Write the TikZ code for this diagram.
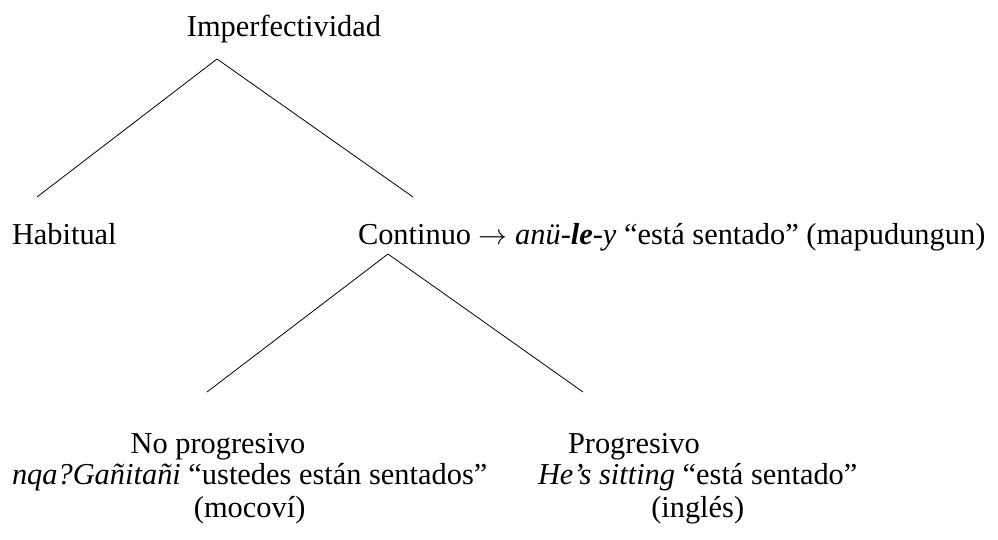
\documentclass[tikz,border=0pt]{standalone}
\usepackage{fontspec}
\setmainfont{Liberation Serif}
\begin{document}
\begin{tikzpicture}[x=0.5pt,y=-0.5pt,
  lbl/.style={inner sep=0pt,outer sep=0pt,font=\fontsize{15.2}{18}\selectfont},
  branch/.style={draw=black,line width=0.4pt}]
\useasboundingbox (0,0) rectangle (998,540);
% labels
\node[lbl,anchor=base] (imp) at (284,37) {Imperfectividad};
\node[lbl,anchor=base west] (hab) at (12,245) {Habitual};
\node[lbl,anchor=base west] (cont) at (358,245) {Continuo $\rightarrow$\ \textit{anü-\textbf{le}-y} “está sentado” (mapudungun)};
\node[lbl,anchor=base] (nop) at (218,453) {No progresivo};
\node[lbl,anchor=base west] (nqa) at (12,485) {\textit{nqa?Gañitañi} “ustedes están sentados”};
\node[lbl,anchor=base] (moc) at ([yshift=-16pt]nqa.base) {(mocoví)};
\node[lbl,anchor=base west] (prog) at (568,453) {Progresivo};
\node[lbl,anchor=base west] (he) at (538,485) {\textit{He’s sitting} “está sentado”};
\node[lbl,anchor=base] (ing) at ([yshift=-16pt]he.base) {(inglés)};
% tree points
\coordinate (a1) at (217,59);
\coordinate (l1) at (37,197);
\coordinate (r1) at (413,197);
\coordinate (a2) at (388,254);
\coordinate (l2) at (207,392);
\coordinate (r2) at (583,392);
\draw[branch] (l1) -- (a1) -- (r1);
\draw[branch] (l2) -- (a2) -- (r2);
\end{tikzpicture}
\end{document}
